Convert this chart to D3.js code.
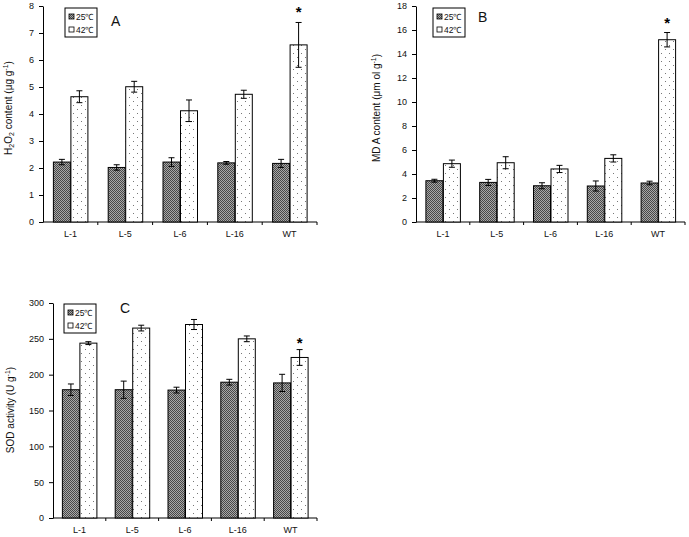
<!DOCTYPE html>
<html><head><meta charset="utf-8">
<script src="https://cdn.jsdelivr.net/npm/d3@7"></script>
<style>body{margin:0;background:#fff}svg{display:block;font-family:"Liberation Sans",Arial,sans-serif}</style>
</head><body><svg id="c" width="689" height="537"></svg>
<script>
const categories = ["L-1","L-5","L-6","L-16","WT"];
const seriesNames = ["25℃","42℃"];
// Panel A: H2O2
const h2o2_25 = [2.22, 2.02, 2.22, 2.19, 2.17];
const h2o2_25err = [0.1, 0.1, 0.16, 0.05, 0.15];
const h2o2_42 = [4.64, 5.01, 4.12, 4.73, 6.56];
const h2o2_42err = [0.22, 0.2, 0.4, 0.15, 0.83];
const h2o2Ticks = [0,1,2,3,4,5,6,7,8];
// Panel B: MDA
const mda_25 = [3.44, 3.3, 3.02, 3.0, 3.25];
const mda_25err = [0.12, 0.25, 0.25, 0.42, 0.15];
const mda_42 = [4.86, 4.94, 4.42, 5.3, 15.19];
const mda_42err = [0.3, 0.5, 0.3, 0.3, 0.6];
const mdaTicks = [0,2,4,6,8,10,12,14,16,18];
// Panel C: SOD
const sod_25 = [179, 179, 178.5, 189.5, 188.5];
const sod_25err = [8, 12, 4, 4, 12];
const sod_42 = [244, 265, 270, 250, 224];
const sod_42err = [2, 4, 7, 4, 11];
const sodTicks = [0,50,100,150,200,250,300];

const svg = d3.select("#c");
const defs = svg.append("defs");
// checker pattern (dark)
const p1 = defs.append("pattern").attr("id","chk").attr("patternUnits","userSpaceOnUse").attr("width",2).attr("height",2);
p1.append("rect").attr("width",2).attr("height",2).attr("fill","#a8a8a8");
p1.append("rect").attr("width",1).attr("height",1).attr("fill","#484848");
p1.append("rect").attr("x",1).attr("y",1).attr("width",1).attr("height",1).attr("fill","#484848");
// dots pattern
const p2 = defs.append("pattern").attr("id","dots").attr("patternUnits","userSpaceOnUse").attr("width",8).attr("height",8);
p2.append("rect").attr("width",8).attr("height",8).attr("fill","#fff");
p2.append("rect").attr("x",1).attr("y",1).attr("width",1).attr("height",1).attr("fill","#777");
p2.append("rect").attr("x",5).attr("y",5).attr("width",1).attr("height",1).attr("fill","#777");

function panel(cfg){
  const g = svg.append("g");
  const x = d3.scaleBand().domain(categories).range([cfg.x0, cfg.x1]);
  const y = d3.scaleLinear().domain([0, cfg.ymax]).range([cfg.yb, cfg.yt]);
  // y axis
  const ya = g.append("g").attr("transform",`translate(${cfg.x0},0)`)
    .call(d3.axisLeft(y).tickValues(cfg.ticks).tickSize(4).tickSizeOuter(0).tickPadding(5));
  ya.select(".domain").attr("stroke","#000");
  ya.selectAll("text").attr("font-size",9).attr("fill","#111");
  // x axis
  const xa = g.append("g").attr("transform",`translate(0,${cfg.yb})`);
  xa.append("line").attr("x1",cfg.x0).attr("x2",cfg.x1).attr("stroke","#000");
  xa.selectAll("line.t").data(categories).enter().append("line")
    .attr("x1",d=>x(d)+x.bandwidth()).attr("x2",d=>x(d)+x.bandwidth())
    .attr("y1",0).attr("y2",3).attr("stroke","#000");
  xa.selectAll("text").data(categories).enter().append("text")
    .attr("x",d=>x(d)+x.bandwidth()/2).attr("y",15).attr("text-anchor","middle")
    .attr("font-size",9).attr("fill","#111").text(d=>d);
  const bw = 17;
  const series = [{v:cfg.v25,e:cfg.e25,fill:"url(#chk)",off:-bw},{v:cfg.v42,e:cfg.e42,fill:"url(#dots)",off:0.5}];
  series.forEach(s=>{
    categories.forEach((c,i)=>{
      const cx = x(c)+x.bandwidth()/2 + s.off;
      g.append("rect").attr("x",cx).attr("y",y(s.v[i])).attr("width",bw).attr("height",cfg.yb-y(s.v[i]))
        .attr("fill",s.fill).attr("stroke","#000").attr("stroke-width",1);
      const mx = cx+bw/2, top=y(s.v[i]+s.e[i]), bot=y(s.v[i]-s.e[i]);
      g.append("line").attr("x1",mx).attr("x2",mx).attr("y1",top).attr("y2",bot).attr("stroke","#000");
      g.append("line").attr("x1",mx-3).attr("x2",mx+3).attr("y1",top).attr("y2",top).attr("stroke","#000");
      g.append("line").attr("x1",mx-3).attr("x2",mx+3).attr("y1",bot).attr("y2",bot).attr("stroke","#000");
    });
  });
  // asterisk over WT 42
  const wx = x("WT")+x.bandwidth()/2 + 0.5 + bw/2;
  g.append("text").attr("x",wx).attr("y",y(cfg.v42[4]+cfg.e42[4])-cfg.astOff).attr("text-anchor","middle")
    .attr("font-size",15).attr("font-weight","bold").attr("fill","#000").text("*");
  // legend
  const L = g.append("g").attr("transform",`translate(${cfg.lx},${cfg.ly})`);
  L.append("rect").attr("width",32).attr("height",29).attr("fill","#fff").attr("stroke","#000").attr("stroke-width",1);
  seriesNames.forEach((n,i)=>{
    L.append("rect").attr("x",4).attr("y",6+i*13).attr("width",5).attr("height",5)
      .attr("fill",i==0?"url(#chk)":"#fff").attr("stroke","#000").attr("stroke-width",0.8);
    L.append("text").attr("x",11).attr("y",12+i*13).attr("font-size",8.5).attr("fill","#111").text(n);
  });
  g.append("text").attr("x",cfg.lx+cfg.letterDx).attr("y",cfg.ly+cfg.letterDy).attr("font-size",14).attr("fill","#111").text(cfg.letter);
  // y title
  const t = g.append("text").attr("transform",`translate(${cfg.tx},${cfg.ty}) rotate(-90)`)
    .attr("text-anchor","middle").attr("font-size",10).attr("fill","#111");
  cfg.title(t);
}

panel({x0:43,x1:317,yt:6,yb:222,ymax:8,ticks:h2o2Ticks,v25:h2o2_25,e25:h2o2_25err,v42:h2o2_42,e42:h2o2_42err,
  astOff:5,lx:65,ly:8,letter:"A",letterDx:46,letterDy:18,tx:12,ty:108,
  title:t=>{t.append("tspan").text("H");t.append("tspan").attr("font-size",7).attr("dy",2).text("2");
    t.append("tspan").attr("dy",-2).text("O");t.append("tspan").attr("font-size",7).attr("dy",2).text("2");
    t.append("tspan").attr("dy",-2).text(" content (μg g");t.append("tspan").attr("font-size",7).attr("dy",-4).text("-1");
    t.append("tspan").attr("dy",4).text(")");}});
panel({x0:416,x1:685,yt:6,yb:222,ymax:18,ticks:mdaTicks,v25:mda_25,e25:mda_25err,v42:mda_42,e42:mda_42err,
  astOff:5,lx:433,ly:8,letter:"B",letterDx:45,letterDy:14,tx:380,ty:108,
  title:t=>{t.append("tspan").text("MD A content (μm ol g");t.append("tspan").attr("font-size",7).attr("dy",-4).text("-1");
    t.append("tspan").attr("dy",4).text(")");}});
panel({x0:53,x1:317,yt:303,yb:518,ymax:300,ticks:sodTicks,v25:sod_25,e25:sod_25err,v42:sod_42,e42:sod_42err,
  astOff:2,lx:64,ly:304,letter:"C",letterDx:56,letterDy:9,tx:14,ty:410,
  title:t=>{t.append("tspan").text("SOD activity (U g");t.append("tspan").attr("font-size",7).attr("dy",-4).text("-1");
    t.append("tspan").attr("dy",4).text(")");}});
</script></body></html>
